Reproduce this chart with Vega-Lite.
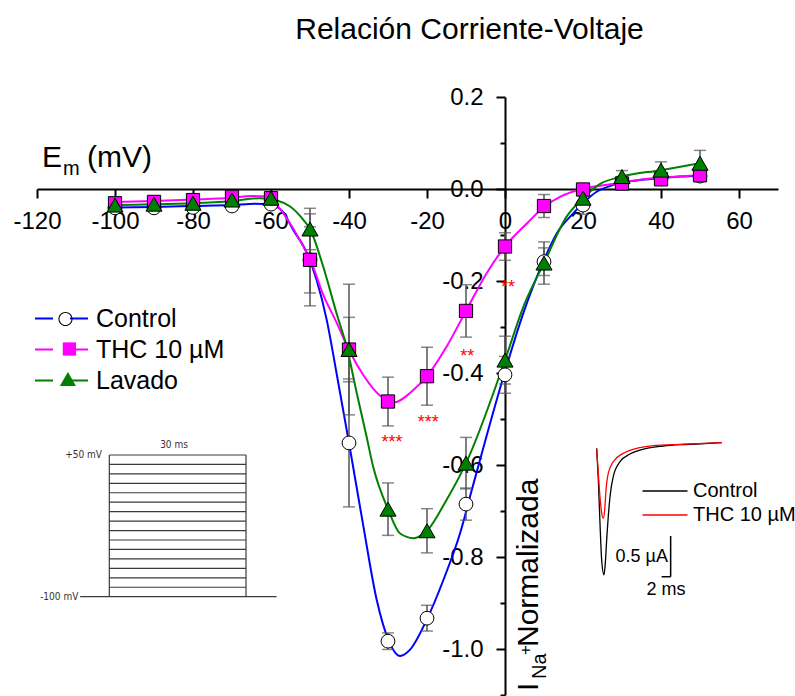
{
  "$schema": "https://vega.github.io/schema/vega-lite/v6.json",
  "autosize": "none",
  "width": 741,
  "height": 598,
  "padding": {"left": 37, "top": 97, "right": 17, "bottom": 1},
  "background": "white",
  "title": {
    "text": "Relación Corriente-Voltaje",
    "font": "Liberation Sans",
    "fontSize": 30,
    "fontWeight": "normal",
    "color": "black",
    "anchor": "middle",
    "frame": "group",
    "baseline": "alphabetic",
    "dx": 62,
    "offset": 16
  },
  "config": {
    "view": {"stroke": null},
    "font": "Liberation Sans"
  },
  "datasets": {
    "puntos": [
      {"v": -100, "i": -0.041, "err": 0.008, "serie": "Control"},
      {"v": -90, "i": -0.041, "err": 0.008, "serie": "Control"},
      {"v": -80, "i": -0.040, "err": 0.008, "serie": "Control"},
      {"v": -70, "i": -0.037, "err": 0.008, "serie": "Control"},
      {"v": -60, "i": -0.033, "err": 0.008, "serie": "Control"},
      {"v": -50, "i": -0.154, "err": 0.100, "serie": "Control"},
      {"v": -40, "i": -0.552, "err": 0.139, "serie": "Control"},
      {"v": -30, "i": -0.983, "err": 0.018, "serie": "Control"},
      {"v": -20, "i": -0.933, "err": 0.028, "serie": "Control"},
      {"v": -10, "i": -0.685, "err": 0.035, "serie": "Control"},
      {"v": 0, "i": -0.404, "err": 0.040, "serie": "Control"},
      {"v": 10, "i": -0.158, "err": 0.030, "serie": "Control"},
      {"v": 20, "i": -0.035, "err": 0.020, "serie": "Control"},
      {"v": 30, "i": 0.015, "err": 0.012, "serie": "Control"},
      {"v": 40, "i": 0.022, "err": 0.012, "serie": "Control"},
      {"v": 50, "i": 0.028, "err": 0.012, "serie": "Control"},
      {"v": -100, "i": -0.031, "err": 0.008, "serie": "THC 10 µM"},
      {"v": -90, "i": -0.028, "err": 0.008, "serie": "THC 10 µM"},
      {"v": -80, "i": -0.024, "err": 0.008, "serie": "THC 10 µM"},
      {"v": -70, "i": -0.017, "err": 0.008, "serie": "THC 10 µM"},
      {"v": -60, "i": -0.020, "err": 0.008, "serie": "THC 10 µM"},
      {"v": -50, "i": -0.154, "err": 0.072, "serie": "THC 10 µM"},
      {"v": -40, "i": -0.349, "err": 0.070, "serie": "THC 10 µM"},
      {"v": -30, "i": -0.462, "err": 0.053, "serie": "THC 10 µM"},
      {"v": -20, "i": -0.407, "err": 0.063, "serie": "THC 10 µM"},
      {"v": -10, "i": -0.265, "err": 0.057, "serie": "THC 10 µM"},
      {"v": 0, "i": -0.125, "err": 0.030, "serie": "THC 10 µM"},
      {"v": 10, "i": -0.037, "err": 0.025, "serie": "THC 10 µM"},
      {"v": 20, "i": -0.001, "err": 0.012, "serie": "THC 10 µM"},
      {"v": 30, "i": 0.012, "err": 0.012, "serie": "THC 10 µM"},
      {"v": 40, "i": 0.021, "err": 0.012, "serie": "THC 10 µM"},
      {"v": 50, "i": 0.030, "err": 0.012, "serie": "THC 10 µM"},
      {"v": -100, "i": -0.035, "err": 0.008, "serie": "Lavado"},
      {"v": -90, "i": -0.033, "err": 0.008, "serie": "Lavado"},
      {"v": -80, "i": -0.031, "err": 0.008, "serie": "Lavado"},
      {"v": -70, "i": -0.024, "err": 0.008, "serie": "Lavado"},
      {"v": -60, "i": -0.020, "err": 0.008, "serie": "Lavado"},
      {"v": -50, "i": -0.087, "err": 0.045, "serie": "Lavado"},
      {"v": -40, "i": -0.349, "err": 0.142, "serie": "Lavado"},
      {"v": -30, "i": -0.696, "err": 0.057, "serie": "Lavado"},
      {"v": -20, "i": -0.743, "err": 0.048, "serie": "Lavado"},
      {"v": -10, "i": -0.596, "err": 0.056, "serie": "Lavado"},
      {"v": 0, "i": -0.372, "err": 0.052, "serie": "Lavado"},
      {"v": 10, "i": -0.161, "err": 0.046, "serie": "Lavado"},
      {"v": 20, "i": -0.020, "err": 0.020, "serie": "Lavado"},
      {"v": 30, "i": 0.027, "err": 0.013, "serie": "Lavado"},
      {"v": 40, "i": 0.041, "err": 0.018, "serie": "Lavado"},
      {"v": 50, "i": 0.056, "err": 0.028, "serie": "Lavado"}
    ],
    "curvas": [
      {"v": -100, "i": -0.040, "curva": "Control"},
      {"v": -90, "i": -0.039, "curva": "Control"},
      {"v": -80, "i": -0.037, "curva": "Control"},
      {"v": -70, "i": -0.035, "curva": "Control"},
      {"v": -64, "i": -0.032, "curva": "Control"},
      {"v": -60, "i": -0.034, "curva": "Control"},
      {"v": -57, "i": -0.049, "curva": "Control"},
      {"v": -54.3, "i": -0.089, "curva": "Control"},
      {"v": -50.8, "i": -0.139, "curva": "Control"},
      {"v": -48.3, "i": -0.198, "curva": "Control"},
      {"v": -45.7, "i": -0.285, "curva": "Control"},
      {"v": -43.2, "i": -0.400, "curva": "Control"},
      {"v": -40, "i": -0.552, "curva": "Control"},
      {"v": -36.3, "i": -0.734, "curva": "Control"},
      {"v": -32.9, "i": -0.893, "curva": "Control"},
      {"v": -29.9, "i": -0.980, "curva": "Control"},
      {"v": -26.9, "i": -1.015, "curva": "Control"},
      {"v": -24.4, "i": -1.002, "curva": "Control"},
      {"v": -20.1, "i": -0.937, "curva": "Control"},
      {"v": -15.8, "i": -0.850, "curva": "Control"},
      {"v": -11.5, "i": -0.748, "curva": "Control"},
      {"v": -8.5, "i": -0.654, "curva": "Control"},
      {"v": -0.4, "i": -0.408, "curva": "Control"},
      {"v": 4.7, "i": -0.270, "curva": "Control"},
      {"v": 9.8, "i": -0.158, "curva": "Control"},
      {"v": 13.3, "i": -0.096, "curva": "Control"},
      {"v": 17.5, "i": -0.053, "curva": "Control"},
      {"v": 20.1, "i": -0.030, "curva": "Control"},
      {"v": 23.5, "i": -0.006, "curva": "Control"},
      {"v": 26.9, "i": 0.0065, "curva": "Control"},
      {"v": 30.3, "i": 0.014, "curva": "Control"},
      {"v": 35, "i": 0.020, "curva": "Control"},
      {"v": 40, "i": 0.024, "curva": "Control"},
      {"v": 45, "i": 0.027, "curva": "Control"},
      {"v": 50, "i": 0.029, "curva": "Control"},
      {"v": -100, "i": -0.028, "curva": "THC 10 µM"},
      {"v": -90, "i": -0.026, "curva": "THC 10 µM"},
      {"v": -80, "i": -0.023, "curva": "THC 10 µM"},
      {"v": -70, "i": -0.019, "curva": "THC 10 µM"},
      {"v": -65, "i": -0.015, "curva": "THC 10 µM"},
      {"v": -62, "i": -0.016, "curva": "THC 10 µM"},
      {"v": -58.5, "i": -0.035, "curva": "THC 10 µM"},
      {"v": -55.1, "i": -0.075, "curva": "THC 10 µM"},
      {"v": -51.7, "i": -0.125, "curva": "THC 10 µM"},
      {"v": -50, "i": -0.152, "curva": "THC 10 µM"},
      {"v": -46.6, "i": -0.230, "curva": "THC 10 µM"},
      {"v": -43.2, "i": -0.290, "curva": "THC 10 µM"},
      {"v": -39.7, "i": -0.355, "curva": "THC 10 µM"},
      {"v": -36.3, "i": -0.405, "curva": "THC 10 µM"},
      {"v": -32.1, "i": -0.449, "curva": "THC 10 µM"},
      {"v": -28.6, "i": -0.464, "curva": "THC 10 µM"},
      {"v": -23.5, "i": -0.437, "curva": "THC 10 µM"},
      {"v": -20, "i": -0.407, "curva": "THC 10 µM"},
      {"v": -15, "i": -0.343, "curva": "THC 10 µM"},
      {"v": -10, "i": -0.265, "curva": "THC 10 µM"},
      {"v": -4.7, "i": -0.183, "curva": "THC 10 µM"},
      {"v": 0, "i": -0.125, "curva": "THC 10 µM"},
      {"v": 5.6, "i": -0.075, "curva": "THC 10 µM"},
      {"v": 10, "i": -0.039, "curva": "THC 10 µM"},
      {"v": 14.1, "i": -0.017, "curva": "THC 10 µM"},
      {"v": 19.2, "i": -0.001, "curva": "THC 10 µM"},
      {"v": 26.1, "i": 0.009, "curva": "THC 10 µM"},
      {"v": 34.6, "i": 0.020, "curva": "THC 10 µM"},
      {"v": 42, "i": 0.026, "curva": "THC 10 µM"},
      {"v": 50, "i": 0.030, "curva": "THC 10 µM"},
      {"v": -100, "i": -0.035, "curva": "Lavado"},
      {"v": -90, "i": -0.033, "curva": "Lavado"},
      {"v": -80, "i": -0.031, "curva": "Lavado"},
      {"v": -70, "i": -0.026, "curva": "Lavado"},
      {"v": -63, "i": -0.020, "curva": "Lavado"},
      {"v": -58.5, "i": -0.025, "curva": "Lavado"},
      {"v": -55.1, "i": -0.038, "curva": "Lavado"},
      {"v": -51.7, "i": -0.067, "curva": "Lavado"},
      {"v": -50, "i": -0.087, "curva": "Lavado"},
      {"v": -46.6, "i": -0.169, "curva": "Lavado"},
      {"v": -43.2, "i": -0.270, "curva": "Lavado"},
      {"v": -40.6, "i": -0.343, "curva": "Lavado"},
      {"v": -38, "i": -0.444, "curva": "Lavado"},
      {"v": -35.5, "i": -0.538, "curva": "Lavado"},
      {"v": -33.8, "i": -0.604, "curva": "Lavado"},
      {"v": -30, "i": -0.696, "curva": "Lavado"},
      {"v": -26.9, "i": -0.749, "curva": "Lavado"},
      {"v": -23.5, "i": -0.759, "curva": "Lavado"},
      {"v": -20, "i": -0.743, "curva": "Lavado"},
      {"v": -15, "i": -0.676, "curva": "Lavado"},
      {"v": -11.5, "i": -0.622, "curva": "Lavado"},
      {"v": -10, "i": -0.596, "curva": "Lavado"},
      {"v": 0, "i": -0.372, "curva": "Lavado"},
      {"v": 4.7, "i": -0.256, "curva": "Lavado"},
      {"v": 10, "i": -0.161, "curva": "Lavado"},
      {"v": 15.8, "i": -0.060, "curva": "Lavado"},
      {"v": 20, "i": -0.020, "curva": "Lavado"},
      {"v": 24.4, "i": 0.011, "curva": "Lavado"},
      {"v": 30, "i": 0.027, "curva": "Lavado"},
      {"v": 40, "i": 0.041, "curva": "Lavado"},
      {"v": 50, "i": 0.056, "curva": "Lavado"}
    ],
    "significancia": [
      {"v": -29, "i": -0.541, "txt": "***"},
      {"v": -19.7, "i": -0.498, "txt": "***"},
      {"v": -9.7, "i": -0.354, "txt": "**"},
      {"v": 0.8, "i": -0.204, "txt": "**"}
    ],
    "protocolo": [
      {"t0": -6.4, "t1": 36.7, "v0": -100, "v1": -100},
      {"t0": 0, "t1": 30, "v0": -90, "v1": -90},
      {"t0": 0, "t1": 30, "v0": -80, "v1": -80},
      {"t0": 0, "t1": 30, "v0": -70, "v1": -70},
      {"t0": 0, "t1": 30, "v0": -60, "v1": -60},
      {"t0": 0, "t1": 30, "v0": -50, "v1": -50},
      {"t0": 0, "t1": 30, "v0": -40, "v1": -40},
      {"t0": 0, "t1": 30, "v0": -30, "v1": -30},
      {"t0": 0, "t1": 30, "v0": -20, "v1": -20},
      {"t0": 0, "t1": 30, "v0": -10, "v1": -10},
      {"t0": 0, "t1": 30, "v0": 0, "v1": 0},
      {"t0": 0, "t1": 30, "v0": 10, "v1": 10},
      {"t0": 0, "t1": 30, "v0": 20, "v1": 20},
      {"t0": 0, "t1": 30, "v0": 30, "v1": 30},
      {"t0": 0, "t1": 30, "v0": 40, "v1": 40},
      {"t0": 0, "t1": 30, "v0": 50, "v1": 50},
      {"t0": 0, "t1": 0, "v0": -100, "v1": 50},
      {"t0": 30, "t1": 30, "v0": -100, "v1": 50}
    ],
    "trazas": [
      {"t": 0, "i": -0.065, "traza": "Control"},
      {"t": 0.36, "i": -0.45, "traza": "Control"},
      {"t": 0.73, "i": -0.98, "traza": "Control"},
      {"t": 1.11, "i": -1.44, "traza": "Control"},
      {"t": 1.62, "i": -1.62, "traza": "Control"},
      {"t": 1.91, "i": -1.48, "traza": "Control"},
      {"t": 2.22, "i": -1.19, "traza": "Control"},
      {"t": 2.96, "i": -0.66, "traza": "Control"},
      {"t": 3.69, "i": -0.41, "traza": "Control"},
      {"t": 5.18, "i": -0.23, "traza": "Control"},
      {"t": 7.4, "i": -0.135, "traza": "Control"},
      {"t": 11.1, "i": -0.065, "traza": "Control"},
      {"t": 14.8, "i": -0.037, "traza": "Control"},
      {"t": 18.5, "i": -0.021, "traza": "Control"},
      {"t": 22.2, "i": -0.012, "traza": "Control"},
      {"t": 27.8, "i": 0.004, "traza": "Control"},
      {"t": 0, "i": -0.077, "traza": "THC 10 µM"},
      {"t": 0.36, "i": -0.37, "traza": "THC 10 µM"},
      {"t": 0.73, "i": -0.66, "traza": "THC 10 µM"},
      {"t": 1.11, "i": -0.86, "traza": "THC 10 µM"},
      {"t": 1.47, "i": -0.925, "traza": "THC 10 µM"},
      {"t": 1.78, "i": -0.82, "traza": "THC 10 µM"},
      {"t": 2.07, "i": -0.58, "traza": "THC 10 µM"},
      {"t": 2.58, "i": -0.37, "traza": "THC 10 µM"},
      {"t": 3.69, "i": -0.23, "traza": "THC 10 µM"},
      {"t": 5.91, "i": -0.127, "traza": "THC 10 µM"},
      {"t": 8.89, "i": -0.065, "traza": "THC 10 µM"},
      {"t": 12.6, "i": -0.033, "traza": "THC 10 µM"},
      {"t": 18.5, "i": -0.016, "traza": "THC 10 µM"},
      {"t": 27.8, "i": 0.004, "traza": "THC 10 µM"}
    ],
    "barras": [
      {"t0": 16.44, "t1": 16.44, "i0": -1.643, "i1": -1.143},
      {"t0": 14.44, "t1": 16.44, "i0": -1.643, "i1": -1.643}
    ]
  },
  "layer": [
    {
      "layer": [
        {
          "data": {"name": "puntos"},
          "transform": [{"filter": "datum.serie === 'Control'"}],
          "mark": {"type": "point", "filled": true, "fill": "#000000", "opacity": 0, "size": 200},
          "encoding": {
            "x": {"field": "v", "type": "quantitative", "scale": {"domain": [-120, 70], "nice": false, "zero": false}},
            "y": {"field": "i", "type": "quantitative", "scale": {"domain": [-1.1, 0.2], "nice": false, "zero": false}},
            "shape": {
              "field": "serie", "type": "nominal",
              "scale": {"range": ["M-1,0A1,1,0,1,0,1,0A1,1,0,1,0,-1,0ZM-0.85,0A0.85,0.85,0,1,1,0.85,0A0.85,0.85,0,1,1,-0.85,0Z"]},
              "legend": {
                "orient": "none", "legendX": 16, "legendY": 209.5, "title": null,
                "symbolSize": 200, "symbolOpacity": 1, "symbolFillColor": "#000000",
                "labelFont": "Liberation Sans", "labelFontSize": 25, "labelColor": "transparent", "padding": 0
              }
            }
          }
        },
        {
          "data": {"name": "curvas"},
          "mark": {"type": "line", "interpolate": "monotone", "strokeWidth": 2},
          "encoding": {
            "x": {"field": "v", "type": "quantitative", "scale": {"domain": [-120, 70], "nice": false, "zero": false},
              "axis": {
                "orient": "bottom", "offset": -506, "title": null, "grid": false,
                "values": [-120, -110, -100, -90, -80, -70, -60, -50, -40, -30, -20, -10, 0, 10, 20, 30, 40, 50, 60, 70],
                "labelExpr": "datum.value % 20 === 0 ? '' + datum.value : ''",
                "domainColor": "black", "domainWidth": 2,
                "tickColor": "black", "tickWidth": 2,
                "tickSize": {"condition": {"test": "datum.value % 20 === 0", "value": 9}, "value": 5},
                "labelFont": "Liberation Sans", "labelFontSize": 24, "labelColor": "black",
                "labelPadding": 11, "labelFlush": false, "labelOverlap": false, "labelBound": false
              }
            },
            "y": {"field": "i", "type": "quantitative", "scale": {"domain": [-1.1, 0.2], "nice": false, "zero": false},
              "axis": {
                "orient": "left", "offset": -468, "title": null, "grid": false,
                "values": [-1.1, -1, -0.9, -0.8, -0.7, -0.6, -0.5, -0.4, -0.3, -0.2, -0.1, 0, 0.1, 0.2],
                "labelExpr": "round(abs(datum.value) * 10) % 2 === 0 ? (datum.value < 0 ? '-' : '') + format(abs(datum.value), '.1f') : ''",
                "domainColor": "black", "domainWidth": 2,
                "tickColor": "black", "tickWidth": 2,
                "tickSize": {"condition": {"test": "round(abs(datum.value) * 10) % 2 === 0", "value": 9}, "value": 5},
                "labelFont": "Liberation Sans", "labelFontSize": 24, "labelColor": "black",
                "labelPadding": 13, "labelFlush": false, "labelOverlap": false, "labelBound": false
              }
            },
            "stroke": {
              "field": "curva", "type": "nominal",
              "scale": {"domain": ["Control", "THC 10 µM", "Lavado"], "range": ["#0000FF", "#FF00FF", "#008000"]},
              "legend": {
                "orient": "none", "legendX": 12, "legendY": 209, "title": null,
                "symbolType": "M-5.3,0H-1.7M1.7,0H5.3", "symbolSize": 100, "symbolStrokeWidth": 2,
                "labelFont": "Liberation Sans", "labelFontSize": 25, "labelColor": "black",
                "rowPadding": 5, "padding": 0, "labelOffset": 22
              }
            }
          }
        },
        {
          "data": {"name": "puntos"},
          "mark": {"type": "errorbar", "ticks": true, "size": 12, "thickness": 1.5, "color": "#555555"},
          "encoding": {
            "x": {"field": "v", "type": "quantitative"},
            "y": {"field": "i", "type": "quantitative"},
            "yError": {"field": "err"},
            "detail": {"field": "serie"}
          }
        },
        {
          "data": {"name": "puntos"},
          "transform": [{"filter": "datum.serie === 'Control'"}],
          "mark": {"type": "point", "shape": "circle", "filled": true, "fill": "#FFFFFF", "stroke": "#000000", "strokeWidth": 1, "size": 190, "opacity": 1},
          "encoding": {
            "x": {"field": "v", "type": "quantitative"},
            "y": {"field": "i", "type": "quantitative"}
          }
        },
        {
          "data": {"name": "puntos"},
          "transform": [{"filter": "datum.serie === 'THC 10 µM'"}],
          "mark": {"type": "point", "filled": true, "fill": "#FF00FF", "stroke": "#000000", "strokeWidth": 1, "size": 175, "opacity": 1},
          "encoding": {
            "x": {"field": "v", "type": "quantitative"},
            "y": {"field": "i", "type": "quantitative"},
            "shape": {
              "field": "serie", "type": "nominal",
              "scale": {"range": ["square"]},
              "legend": {
                "orient": "none", "legendX": 19.9, "legendY": 239.5, "title": null,
                "symbolSize": 175, "symbolFillColor": "#FF00FF", "symbolStrokeColor": "#000000", "symbolStrokeWidth": 1,
                "labelFont": "Liberation Sans", "labelFontSize": 25, "labelColor": "transparent", "padding": 0
              }
            }
          }
        },
        {
          "data": {"name": "puntos"},
          "transform": [{"filter": "datum.serie === 'Lavado'"}],
          "mark": {"type": "point", "filled": true, "fill": "#008000", "stroke": "#000000", "strokeWidth": 1, "size": 260, "opacity": 1},
          "encoding": {
            "x": {"field": "v", "type": "quantitative"},
            "y": {"field": "i", "type": "quantitative"},
            "shape": {
              "field": "serie", "type": "nominal",
              "scale": {"range": ["triangle-up"]},
              "legend": {
                "orient": "none", "legendX": 18.4, "legendY": 269.5, "title": null,
                "symbolSize": 260, "symbolFillColor": "#008000", "symbolStrokeColor": "#000000", "symbolStrokeWidth": 1,
                "labelFont": "Liberation Sans", "labelFontSize": 25, "labelColor": "transparent", "padding": 0
              }
            }
          }
        },
        {
          "data": {"name": "significancia"},
          "mark": {"type": "text", "color": "#FF0000", "fontSize": 18, "baseline": "alphabetic", "align": "center", "dy": 10},
          "encoding": {
            "x": {"field": "v", "type": "quantitative"},
            "y": {"field": "i", "type": "quantitative"},
            "text": {"field": "txt"}
          }
        },
        {
          "data": {"values": [{}]},
          "mark": {"type": "text", "text": "E", "fontSize": 30, "align": "left", "baseline": "alphabetic", "dx": 5, "dy": -22, "color": "black"},
          "encoding": {"x": {"datum": -120, "type": "quantitative"}, "y": {"datum": 0, "type": "quantitative"}}
        },
        {
          "data": {"values": [{}]},
          "mark": {"type": "text", "text": "m", "fontSize": 20, "align": "left", "baseline": "alphabetic", "dx": 26, "dy": -14, "color": "black"},
          "encoding": {"x": {"datum": -120, "type": "quantitative"}, "y": {"datum": 0, "type": "quantitative"}}
        },
        {
          "data": {"values": [{}]},
          "mark": {"type": "text", "text": "(mV)", "fontSize": 30, "align": "left", "baseline": "alphabetic", "dx": 50, "dy": -22, "color": "black"},
          "encoding": {"x": {"datum": -120, "type": "quantitative"}, "y": {"datum": 0, "type": "quantitative"}}
        },
        {
          "data": {"values": [{}]},
          "mark": {"type": "text", "text": "Normalizada", "fontSize": 30, "angle": 270, "align": "left", "baseline": "alphabetic", "dx": 48, "dy": 33, "color": "black"},
          "encoding": {"x": {"datum": 0, "type": "quantitative"}, "y": {"datum": -1.1, "type": "quantitative"}}
        },
        {
          "data": {"values": [{}]},
          "mark": {"type": "text", "text": "Na", "fontSize": 20, "angle": 270, "align": "left", "baseline": "alphabetic", "dx": 16, "dy": 41, "color": "black"},
          "encoding": {"x": {"datum": 0, "type": "quantitative"}, "y": {"datum": -1.1, "type": "quantitative"}}
        },
        {
          "data": {"values": [{}]},
          "mark": {"type": "text", "text": "+", "fontSize": 17, "angle": 270, "align": "left", "baseline": "alphabetic", "dx": 40, "dy": 26, "color": "black"},
          "encoding": {"x": {"datum": 0, "type": "quantitative"}, "y": {"datum": -1.1, "type": "quantitative"}}
        },
        {
          "data": {"values": [{}]},
          "mark": {"type": "text", "text": "I", "fontSize": 30, "angle": 270, "align": "left", "baseline": "alphabetic", "dx": 4, "dy": 33, "color": "black"},
          "encoding": {"x": {"datum": 0, "type": "quantitative"}, "y": {"datum": -1.1, "type": "quantitative"}}
        }
      ],
      "resolve": {"scale": {"shape": "independent"}}
    },
    {
      "layer": [
        {
          "data": {"name": "protocolo"},
          "mark": {"type": "rule", "color": "#3a3a3a", "strokeWidth": 1.2},
          "encoding": {
            "x": {"field": "t0", "type": "quantitative", "scale": {"domain": [-15.87, 146.75], "nice": false, "zero": false}, "axis": null},
            "x2": {"field": "t1"},
            "y": {"field": "v0", "type": "quantitative", "scale": {"domain": [-204.1, 429.0], "nice": false, "zero": false}, "axis": null},
            "y2": {"field": "v1"}
          }
        },
        {
          "data": {"values": [{"t": -1.6, "v": 50, "txt": "+50 mV"}, {"t": -6.8, "v": -100, "txt": "-100 mV"}]},
          "mark": {"type": "text", "align": "right", "baseline": "middle", "fontSize": 10, "font": "Liberation Sans Narrow, DejaVu Sans Condensed, Liberation Sans", "color": "#333333"},
          "encoding": {
            "x": {"field": "t", "type": "quantitative"},
            "y": {"field": "v", "type": "quantitative"},
            "text": {"field": "txt"}
          }
        },
        {
          "data": {"values": [{"t": 14.2, "v": 60.6, "txt": "30 ms"}]},
          "mark": {"type": "text", "align": "center", "baseline": "middle", "fontSize": 10, "font": "Liberation Sans Narrow, DejaVu Sans Condensed, Liberation Sans", "color": "#333333"},
          "encoding": {
            "x": {"field": "t", "type": "quantitative"},
            "y": {"field": "v", "type": "quantitative"},
            "text": {"field": "txt"}
          }
        }
      ]
    },
    {
      "layer": [
        {
          "data": {"name": "trazas"},
          "mark": {"type": "line", "interpolate": "monotone", "strokeWidth": 1.3},
          "encoding": {
            "x": {"field": "t", "type": "quantitative", "scale": {"domain": [-124.4, 40.3], "nice": false, "zero": false}, "axis": null},
            "y": {"field": "i", "type": "quantitative", "scale": {"domain": [-3.096, 4.251], "nice": false, "zero": false}, "axis": null},
            "stroke": {
              "field": "traza", "type": "nominal",
              "scale": {"domain": ["Control", "THC 10 µM"], "range": ["#000000", "#FF0000"]},
              "legend": {
                "orient": "none", "legendX": 618, "legendY": 384, "title": null,
                "symbolType": "M-4.5,0H4.5", "symbolSize": 100, "symbolStrokeWidth": 1.3,
                "labelFont": "Liberation Sans", "labelFontSize": 20, "labelColor": "black",
                "rowPadding": 4, "padding": 0, "labelOffset": 18
              }
            }
          }
        },
        {
          "data": {"name": "barras"},
          "mark": {"type": "rule", "color": "black", "strokeWidth": 1.5},
          "encoding": {
            "x": {"field": "t0", "type": "quantitative"},
            "x2": {"field": "t1"},
            "y": {"field": "i0", "type": "quantitative"},
            "y2": {"field": "i1"}
          }
        },
        {
          "data": {"values": [{"t": 15.84, "i": -1.397, "txt": "0.5 µA"}]},
          "mark": {"type": "text", "align": "right", "baseline": "middle", "fontSize": 18, "color": "black"},
          "encoding": {
            "x": {"field": "t", "type": "quantitative"},
            "y": {"field": "i", "type": "quantitative"},
            "text": {"field": "txt"}
          }
        },
        {
          "data": {"values": [{"t": 15.4, "i": -1.806, "txt": "2 ms"}]},
          "mark": {"type": "text", "align": "center", "baseline": "middle", "fontSize": 18, "color": "black"},
          "encoding": {
            "x": {"field": "t", "type": "quantitative"},
            "y": {"field": "i", "type": "quantitative"},
            "text": {"field": "txt"}
          }
        }
      ]
    }
  ],
  "resolve": {"scale": {"x": "independent", "y": "independent", "stroke": "independent"}}
}
